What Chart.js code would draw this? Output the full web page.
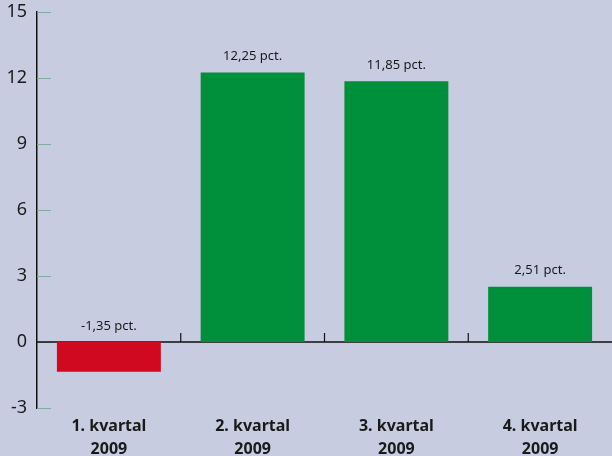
<!DOCTYPE html>
<html>
<head>
<meta charset="utf-8">
<script src="https://cdn.jsdelivr.net/npm/chart.js@4"></script>
<style>
  html, body { margin: 0; padding: 0; background: #c8cce0; }
  #wrap { width: 612px; height: 456px; }
</style>
</head>
<body>
<div id="wrap"><canvas id="graph"></canvas></div>
<script>
let quarters = [['1. kvartal', '2009'], ['2. kvartal', '2009'], ['3. kvartal', '2009'], ['4. kvartal', '2009']]
let growth = [-1.35, 12.25, 11.85, 2.51]
let valueLabels = ['-1,35 pct.', '12,25 pct.', '11,85 pct.', '2,51 pct.']
let yTicks = [-3, 0, 3, 6, 9, 12, 15]

let barColors = growth.map(v => v < 0 ? 'rgb(208, 8, 32)' : 'rgb(0, 143, 58)')

// zero line, tick marks and value labels
let extras = {
    id: 'extras',
    beforeDatasetsDraw(chart) {
        let ctx = chart.ctx
        let x = chart.scales.x
        let y = chart.scales.y
        let area = chart.chartArea
        let y0 = y.getPixelForValue(0)
        ctx.save()
        // inward ticks on the y axis
        ctx.strokeStyle = 'rgb(130, 170, 160)'
        ctx.lineWidth = 1
        yTicks.forEach(t => {
            let py = Math.round(y.getPixelForValue(t)) + 0.5
            ctx.beginPath()
            ctx.moveTo(area.left, py)
            ctx.lineTo(area.left + 14, py)
            ctx.stroke()
        })
        // zero line
        ctx.strokeStyle = '#111'
        ctx.lineWidth = 1.5
        ctx.beginPath()
        ctx.moveTo(area.left, y0)
        ctx.lineTo(area.right, y0)
        ctx.stroke()
        // category separators
        ctx.lineWidth = 1.2
        for (let i = 0; i < quarters.length - 1; i++) {
            let px = (x.getPixelForValue(i) + x.getPixelForValue(i + 1)) / 2
            ctx.beginPath()
            ctx.moveTo(px, y0)
            ctx.lineTo(px, y0 - 9)
            ctx.stroke()
        }
        ctx.restore()
    },
    afterDatasetsDraw(chart) {
        let ctx = chart.ctx
        let meta = chart.getDatasetMeta(0)
        let y0 = chart.scales.y.getPixelForValue(0)
        ctx.save()
        ctx.fillStyle = '#1a1a1a'
        ctx.font = '13px "Noto Sans"'
        ctx.textAlign = 'center'
        ctx.textBaseline = 'middle'
        meta.data.forEach((bar, i) => {
            let top = Math.min(bar.y, y0)
            ctx.fillText(valueLabels[i], bar.x, top - 16)
        })
        ctx.restore()
    }
}

new Chart(document.getElementById('graph').getContext('2d'), {
    type: 'bar',
    data: {
        labels: quarters,
        datasets: [
            {
                data: growth,
                backgroundColor: barColors,
                borderWidth: 0,
                categoryPercentage: 1,
                barPercentage: 0.723,
            }
        ]
    },
    options: {
        responsive: true,
        maintainAspectRatio: false,
        animation: false,
        layout: { padding: { top: 12, left: 0, right: 0, bottom: 0 } },
        plugins: {
            legend: { display: false },
            tooltip: { enabled: false },
        },
        scales: {
            x: {
                grid: { display: false, drawTicks: false },
                border: { display: false },
                ticks: {
                    color: '#1a1a1a',
                    font: { family: '"Noto Sans"', size: 16, weight: 'bold', lineHeight: 1.45 },
                    padding: 7,
                    maxRotation: 0,
                },
                afterFit(scale) {
                    scale.height = 48
                    scale.paddingLeft = 0
                    scale.paddingRight = 0
                },
            },
            y: {
                min: -3,
                max: 15,
                afterBuildTicks(scale) { scale.ticks = yTicks.map(v => ({ value: v })) },
                grid: { display: false, drawTicks: false },
                border: { display: true, color: '#111', width: 1.5 },
                ticks: {
                    color: '#1a1a1a',
                    font: { family: '"Noto Sans"', size: 18 },
                    padding: 10,
                },
                afterFit(scale) {
                    scale.width = 37
                    scale.paddingTop = 0
                    scale.paddingBottom = 0
                },
            }
        }
    },
    plugins: [extras]
})
</script>
</body>
</html>
